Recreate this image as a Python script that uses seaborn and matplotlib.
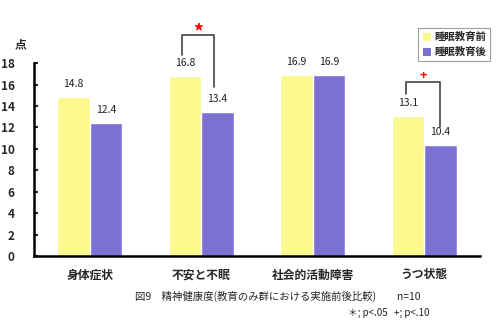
import matplotlib
matplotlib.use("Agg")
import matplotlib.pyplot as plt
import seaborn as sns
import pandas as pd

categories = ["身体症状", "不安と不眠", "社会的活動障害", "うつ状態"]
series_names = ["睡眠教育前", "睡眠教育後"]
before = [14.8, 16.8, 16.9, 13.1]
after = [12.4, 13.4, 16.9, 10.4]
yticks = [0, 2, 4, 6, 8, 10, 12, 14, 16, 18]

sns.set_style("white")
plt.rcParams['font.family'] = ['Noto Sans CJK JP', 'DejaVu Sans']

df = pd.DataFrame({
    "category": categories * 2,
    "group": [series_names[0]] * 4 + [series_names[1]] * 4,
    "value": before + after,
})

fig = plt.figure(figsize=(5, 3.24), dpi=100)
ax = fig.add_axes([0.068, 0.21, 0.892, 0.595])
palette = {series_names[0]: "#FBF98E", series_names[1]: "#7C70D2"}
sns.barplot(data=df, x="category", y="value", hue="group", palette=palette,
            width=0.58, saturation=1, ax=ax, legend=False)

ax.set_ylim(0, 18)
ax.set_xlim(-0.5, 3.5)
ax.set_yticks(yticks)
ax.set_yticklabels([str(t) for t in yticks], fontsize=8.5, fontweight='bold')
ax.tick_params(axis='y', direction='in', length=3, width=1.5, pad=14, left=True)
ax.tick_params(axis='x', length=0, pad=9)
for lab in ax.get_xticklabels():
    lab.set_fontsize(8.5)
    lab.set_fontweight('bold')
ax.set_xlabel("")
ax.set_ylabel("")
for s in ["top", "right"]:
    ax.spines[s].set_visible(False)
ax.spines["left"].set_linewidth(1.8)
ax.spines["bottom"].set_linewidth(1.8)
ax.spines["left"].set_color("black")
ax.spines["bottom"].set_color("black")

# value labels
for cont in ax.containers:
    for bar in cont:
        h = bar.get_height()
        ax.text(bar.get_x() + bar.get_width() / 2, h + 0.75, f"{h:.1f}",
                ha='center', va='bottom', fontsize=7.5, color='#222222')

# significance brackets
def bracket(x1, x2, ytop, y1, y2, mark, my, fs):
    ax.plot([x1, x1, x2, x2], [y1, ytop, ytop, y2], color='#444444', lw=1.2,
            clip_on=False)
    ax.text((x1 + x2) / 2, my, mark, ha='center', va='center', color='red',
            fontsize=fs, fontweight='bold', clip_on=False)

bracket(1 - 0.17, 1 + 0.11, 20.6, 18.8, 15.8, "*", 20.9, 14)
bracket(3 - 0.16, 3 + 0.14, 16.2, 15.1, 12.0, "+", 16.85, 9)

fig.text(0.03, 0.86, "点", fontsize=8.5, fontweight='bold', ha='left', va='center')

# legend
from matplotlib.patches import Patch
handles = [Patch(facecolor=palette[n], edgecolor='none') for n in series_names]
leg = fig.legend(handles, series_names, loc='upper right',
                 bbox_to_anchor=(0.98, 0.913), fontsize=7.5,
                 frameon=True, fancybox=False, handlelength=0.8,
                 handleheight=0.8, handletextpad=0.3, borderpad=0.4,
                 labelspacing=0.45, borderaxespad=0)
leg.get_frame().set_edgecolor('#888888')
leg.get_frame().set_linewidth(0.8)
for t in leg.get_texts():
    t.set_fontweight('bold')

fig.text(0.555, 0.085, "図9　精神健康度(教育のみ群における実施前後比較)　　n=10",
         fontsize=7.5, ha='center', va='center')
fig.text(0.86, 0.035, "＊; p<.05   +; p<.10", fontsize=7, ha='right', va='center')

fig.savefig("out.png", dpi=100)
